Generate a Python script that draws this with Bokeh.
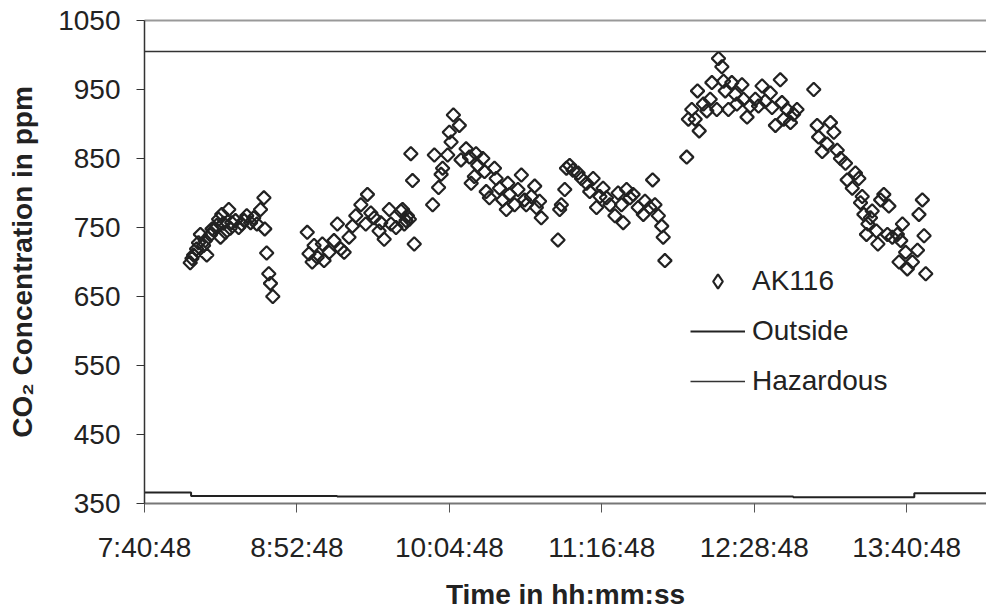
import numpy as np
from bokeh.plotting import figure
from bokeh.models import Range1d, FixedTicker, LinearAxis, Legend, LegendItem, ColumnDataSource
from bokeh.embed import file_html
from bokeh.resources import INLINE

# ---- data ----
times = [
    # morning block 1
    "8:02:24", "8:04:00", "8:05:24", "8:07:12", "8:08:42", "8:10:12", "8:11:54", "8:13:30",
    "8:14:54", "8:16:42", "8:17:18", "8:19:00", "8:20:36", "8:22:00", "8:23:48", "8:25:18",
    "8:26:42", "8:29:06", "8:30:54", "8:32:24", "8:33:54", "8:35:36", "8:37:12", "8:37:36",
    "8:38:30", "8:39:30", "8:40:18", "8:41:24",
    "8:03:12", "8:06:18", "8:09:30", "8:12:42", "8:15:48", "8:18:06", "8:21:18", "8:27:54",
    # block 2
    "8:57:40", "8:58:30", "9:00:00", "9:00:54", "9:02:24", "9:04:48", "9:05:36", "9:08:00",
    "9:10:18", "9:11:54", "9:13:30", "9:15:06", "9:17:24", "9:19:00", "9:20:36", "9:23:00",
    "9:25:18", "9:26:06", "9:27:42", "9:29:18", "9:31:36", "9:32:24", "9:34:00", "9:36:24",
    "9:37:12", "9:39:36", "9:41:54", "9:42:42", "9:43:30", "9:44:18", "9:45:00", "9:45:54",
    "9:46:36", "9:47:24", "9:48:12",
    # block 3
    "9:56:54", "9:57:42", "9:59:42", "10:00:54", "10:01:36", "10:04:00", "10:04:48", "10:05:36",
    "10:06:42", "10:09:30", "10:10:18", "10:12:42", "10:14:18", "10:15:06", "10:16:36", "10:17:24",
    "10:18:12", "10:20:36", "10:21:24", "10:22:12", "10:23:42", "10:26:06", "10:26:54", "10:28:30",
    "10:30:00", "10:31:42", "10:32:24", "10:33:12", "10:35:36", "10:37:12", "10:38:48", "10:40:18",
    "10:41:06", "10:43:30", "10:45:06", "10:45:54", "10:47:24", "10:48:12",
    # block 4
    "10:56:06", "10:56:54", "10:57:42", "10:59:18", "11:00:06", "11:01:36", "11:03:12", "11:05:36",
    "11:07:12", "11:09:36", "11:11:06", "11:12:42", "11:14:18", "11:15:54", "11:17:24", "11:19:00",
    "11:20:36", "11:23:00", "11:24:30", "11:26:06", "11:26:54", "11:28:30", "11:30:06", "11:31:36",
    "11:34:00", "11:36:24", "11:37:12", "11:39:30", "11:40:48", "11:41:54", "11:43:30", "11:45:06",
    "11:45:48", "11:46:36",
    # block 5
    "11:56:54", "11:57:42", "11:59:18", "12:00:54", "12:02:00", "12:02:48", "12:04:48", "12:06:24",
    "12:08:00", "12:08:48", "12:11:06", "12:11:54", "12:13:30", "12:14:18", "12:15:06", "12:16:36",
    "12:18:12", "12:19:48", "12:20:36", "12:23:00", "12:23:42", "12:25:24", "12:26:54", "12:29:18",
    "12:30:48", "12:32:30", "12:34:00", "12:36:24", "12:37:12", "12:38:48", "12:41:06", "12:41:54",
    "12:42:42", "12:44:18", "12:45:54", "12:47:24", "12:49:00",
    "12:56:54", "12:58:30", "12:59:12", "13:00:54", "13:03:12", "13:04:48", "13:06:24", "13:08:00",
    "13:09:30", "13:11:54", "13:12:42", "13:15:06", "13:16:36", "13:18:12", "13:19:00", "13:19:48",
    "13:20:36", "13:21:48", "13:22:30", "13:23:42", "13:24:30", "13:26:30", "13:27:12", "13:28:30",
    "13:30:00", "13:31:42", "13:32:24", "13:34:00", "13:36:24", "13:37:12", "13:38:00", "13:38:48",
    "13:40:18", "13:41:06", "13:43:30", "13:45:54", "13:46:36", "13:48:12", "13:49:00", "13:49:48",
]
co2_ppm = [
    699, 710, 719, 740, 724, 710, 739, 746,
    753, 736, 769, 743, 776, 757, 760, 750,
    755, 767, 757, 764, 755, 776, 793, 748,
    713, 683, 669, 650,
    705, 728, 731, 748, 762, 756, 749, 760,
    743, 712, 700, 724, 707, 726, 702, 714,
    731, 755, 719, 714, 736, 752, 767, 783,
    755, 798, 771, 764, 745, 757, 733, 776,
    755, 750, 774, 776, 755, 760, 767, 762,
    857, 818, 726,
    783, 855, 808, 827, 836, 855, 888, 874,
    913, 898, 848, 864, 852, 814, 824, 857,
    840, 850, 831, 802, 793, 836, 821, 807,
    790, 776, 814, 798, 783, 805, 826, 790,
    783, 795, 810, 779, 788, 764,
    732, 776, 783, 805, 836, 840, 833, 829,
    821, 814, 802, 821, 779, 795, 807, 793,
    783, 767, 800, 783, 757, 805, 793, 798,
    779, 769, 788, 779, 819, 783, 767, 752,
    736, 702,
    852, 907, 921, 907, 948, 890, 929, 919,
    936, 960, 921, 995, 983, 962, 948, 921,
    960, 943, 929, 957, 936, 910, 926, 936,
    926, 955, 933, 945, 924, 898, 964, 931,
    907, 921, 902, 914, 921,
    950, 898, 881, 860, 871, 902, 888, 862,
    850, 843, 819, 807, 829, 821, 786, 795,
    769, 740, 755, 764, 774, 745, 726, 790,
    798, 740, 781, 736, 740, 700, 731, 755,
    714, 690, 700, 717, 769, 790, 738, 683,
]
outside_times = ["7:40:48", "8:02:48", "8:02:48", "9:11:48", "9:11:48", "12:47:12",
                 "12:47:12", "13:44:24", "13:44:24", "14:18:30"]
outside_ppm = [366, 366, 361, 361, 360, 360, 359, 359, 365, 365]
hazardous_ppm = 1005
x_tick_labels = ["7:40:48", "8:52:48", "10:04:48", "11:16:48", "12:28:48", "13:40:48"]
x_start, x_end = "7:40:48", "14:18:30"
y_ticks = [350, 450, 550, 650, 750, 850, 950, 1050]


def to_sec(t):
    h, m, s = (int(v) for v in t.split(":"))
    return h * 3600 + m * 60 + s


FONT = "Liberation Sans"
TXT = "#222222"

p = figure(width=986, height=612, output_backend="svg", toolbar_location=None,
           x_range=Range1d(to_sec(x_start), to_sec(x_end)),
           y_range=Range1d(y_ticks[0], y_ticks[-1]),
           min_border_left=144, min_border_right=0, min_border_top=20, min_border_bottom=105)
p.xgrid.visible = False
p.ygrid.visible = False
p.outline_line_color = None
p.background_fill_color = "white"
p.border_fill_color = "white"

xa = p.below[0]
ya = p.left[0]

# top border line of the plot area
top_axis = LinearAxis(ticker=FixedTicker(ticks=[]), axis_line_color="#999999", axis_line_width=2,
                      major_tick_line_color=None, minor_tick_line_color=None,
                      major_label_text_font_size="0px")
p.add_layout(top_axis, "above")

src = ColumnDataSource(dict(x=[to_sec(t) for t in times], y=co2_ppm))
sc = p.scatter("x", "y", source=src, marker="square", angle=np.pi / 4, size=9.5,
               line_color="#222222", line_width=2.2, fill_alpha=0)
# legend-only glyph (legend markers are drawn unrotated); one non-plotted point
sc_leg = p.scatter(x=[float("nan")], y=[float("nan")], marker="diamond",
                   line_color="#222222", line_width=2.2, fill_alpha=0)

lo = p.line([to_sec(t) for t in outside_times], outside_ppm, line_color="#222222", line_width=2)
lh = p.line([to_sec(x_start), to_sec(x_end)], [hazardous_ppm, hazardous_ppm],
            line_color="#333333", line_width=1.5)

legend = Legend(items=[LegendItem(label="AK116", renderers=[sc_leg], index=0),
                       LegendItem(label="Outside", renderers=[lo]),
                       LegendItem(label="Hazardous", renderers=[lh])],
                location=(546, 104), orientation="vertical",
                border_line_color=None, background_fill_alpha=0, padding=0, margin=0,
                spacing=14, glyph_width=55, glyph_height=36, label_height=36, label_standoff=7,
                label_text_font_size="28px", label_text_font=FONT, label_text_color=TXT)
p.add_layout(legend)

# y axis
ya.ticker = FixedTicker(ticks=y_ticks)
ya.axis_label = "CO\u2082 Concentration in ppm"
ya.axis_label_text_font = FONT
ya.axis_label_text_font_style = "bold"
ya.axis_label_text_font_size = "28px"
ya.axis_label_text_color = TXT
ya.axis_label_standoff = 17
ya.major_label_text_font = FONT
ya.major_label_text_font_size = "28px"
ya.major_label_text_color = TXT
ya.major_label_standoff = 16
ya.major_tick_out = 8
ya.major_tick_in = 0
ya.minor_tick_line_color = None
ya.axis_line_color = "#333333"
ya.axis_line_width = 1.5
ya.major_tick_line_color = "#333333"

# x axis
xa.ticker = FixedTicker(ticks=[to_sec(t) for t in x_tick_labels])
xa.major_label_overrides = {to_sec(t): t for t in x_tick_labels}
xa.axis_label = "Time in hh:mm:ss"
xa.axis_label_text_font = FONT
xa.axis_label_text_font_style = "bold"
xa.axis_label_text_font_size = "28px"
xa.axis_label_text_color = TXT
xa.axis_label_standoff = 13
xa.major_label_text_font = FONT
xa.major_label_text_font_size = "28px"
xa.major_label_text_color = TXT
xa.major_label_standoff = 19
xa.major_tick_out = 9
xa.major_tick_in = 0
xa.minor_tick_line_color = None
xa.axis_line_color = "#777777"
xa.axis_line_width = 2
xa.major_tick_line_color = "#555555"

open("out.html", "w").write(file_html(p, INLINE))
